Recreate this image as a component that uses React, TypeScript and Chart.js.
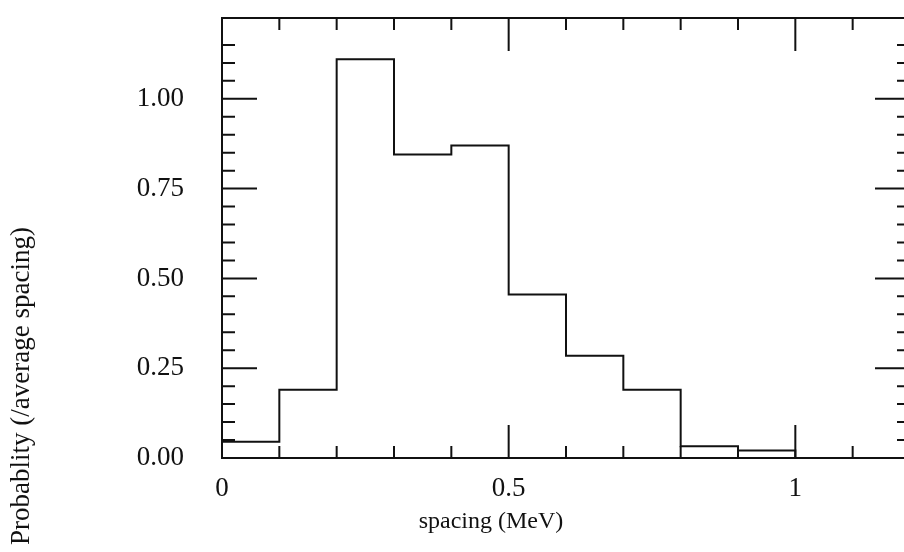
import React, { useEffect, useRef } from "react";
import { Chart, registerables } from "chart.js";

Chart.register(...registerables);

// ---- data ----
const binEdges = [0, 0.1, 0.2, 0.3, 0.4, 0.5, 0.6, 0.7, 0.8, 0.9, 1.0];
const binValues = [0.045, 0.19, 1.11, 0.845, 0.87, 0.455, 0.285, 0.19, 0.033, 0.021];
const xLabelValues = [0, 0.5, 1];
const xTickLabels = ["0", "0.5", "1"];
const yLabelValues = [0, 0.25, 0.5, 0.75, 1.0];
const yTickLabels = ["0.00", "0.25", "0.50", "0.75", "1.00"];
const xTitle = "spacing (MeV)";
const yTitle = "Probablity (/average spacing)";

const INK = "#111111";
const SERIF = "'Liberation Serif', 'Times New Roman', serif";

function near(a: number, b: number) {
  return Math.abs(a - b) < 1e-6;
}

const framePlugin = {
  id: "frame",
  afterDraw(chart: any) {
    const { ctx, chartArea } = chart;
    const xs = chart.scales.x;
    const ys = chart.scales.y;
    const { left, right, top, bottom } = chartArea;
    ctx.save();
    ctx.strokeStyle = INK;
    ctx.lineWidth = 2;
    ctx.beginPath();
    ctx.rect(left, top, right - left, bottom - top);
    ctx.stroke();

    // inward ticks on x (bottom & top)
    xs.ticks.forEach((t: any) => {
      const v = t.value;
      const k = Math.round(v * 10);
      if (!near(v, k / 10) || k === 0) return;
      const major = k % 5 === 0;
      const len = major ? 33 : 12;
      const px = xs.getPixelForValue(v);
      ctx.beginPath();
      ctx.moveTo(px, bottom);
      ctx.lineTo(px, bottom - len);
      ctx.moveTo(px, top);
      ctx.lineTo(px, top + len);
      ctx.stroke();
    });
    // inward ticks on y (left & right)
    ys.ticks.forEach((t: any) => {
      const v = t.value;
      const k = Math.round(v * 20);
      if (!near(v, k / 20) || k === 0) return;
      const major = k % 5 === 0;
      const len = major ? 35 : 13;
      const py = ys.getPixelForValue(v);
      ctx.beginPath();
      ctx.moveTo(left, py);
      ctx.lineTo(left + len, py);
      ctx.moveTo(right, py);
      ctx.lineTo(right - len, py);
      ctx.stroke();
    });

    // axis titles
    ctx.fillStyle = INK;
    ctx.textAlign = "center";
    ctx.textBaseline = "middle";
    ctx.font = `24px ${SERIF}`;
    ctx.fillText(xTitle, 491, 522);
    ctx.save();
    ctx.translate(22, 386);
    ctx.rotate(-Math.PI / 2);
    ctx.font = `27px ${SERIF}`;
    ctx.fillText(yTitle, 0, 0);
    ctx.restore();
    ctx.restore();
  },
};

export default function App() {
  const canvasRef = useRef<HTMLCanvasElement | null>(null);

  useEffect(() => {
    const canvas = canvasRef.current;
    if (!canvas) return;
    const points = binValues.map((v, i) => ({ x: binEdges[i], y: v }));
    points.push({ x: binEdges[binEdges.length - 1], y: 0 });

    const chart = new Chart(canvas, {
      type: "line",
      data: {
        datasets: [
          {
            data: points,
            stepped: "before",
            borderColor: INK,
            borderWidth: 2,
            pointRadius: 0,
            fill: false,
          },
        ],
      },
      options: {
        animation: false,
        responsive: false,
        events: [],
        layout: { padding: { top: 18, right: 2, left: 0, bottom: 0 } },
        plugins: { legend: { display: false }, tooltip: { enabled: false } },
        scales: {
          x: {
            type: "linear",
            min: 0,
            max: 1.2,
            grid: { display: false, drawTicks: false },
            border: { display: false },
            afterFit(scale: any) {
              scale.height = 552 - 458;
              scale.paddingLeft = 0;
              scale.paddingRight = 0;
              scale.paddingTop = 0;
              scale.paddingBottom = 0;
            },
            ticks: {
              stepSize: 0.1,
              autoSkip: false,
              maxRotation: 0,
              padding: 15,
              color: INK,
              font: { family: SERIF, size: 27 },
              callback(value: any) {
                const i = xLabelValues.findIndex((lv) => near(lv, Number(value)));
                return i >= 0 ? xTickLabels[i] : "";
              },
            },
          },
          y: {
            type: "linear",
            min: 0,
            max: 1.225,
            grid: { display: false, drawTicks: false },
            border: { display: false },
            afterFit(scale: any) {
              scale.width = 222;
              scale.paddingLeft = 0;
              scale.paddingRight = 0;
              scale.paddingTop = 0;
              scale.paddingBottom = 0;
            },
            ticks: {
              stepSize: 0.05,
              autoSkip: false,
              padding: 38,
              color: INK,
              font: { family: SERIF, size: 27 },
              callback(value: any) {
                const i = yLabelValues.findIndex((lv) => near(lv, Number(value)));
                return i >= 0 ? yTickLabels[i] : "";
              },
            },
          },
        },
      },
      plugins: [framePlugin],
    });
    return () => chart.destroy();
  }, []);

  return (
    <div
      style={{
        position: "fixed",
        left: 0,
        top: 0,
        width: 904,
        height: 552,
        overflow: "hidden",
        background: "#ffffff",
      }}
    >
      <canvas ref={canvasRef} width={912} height={552} style={{ display: "block" }} />
    </div>
  );
}
